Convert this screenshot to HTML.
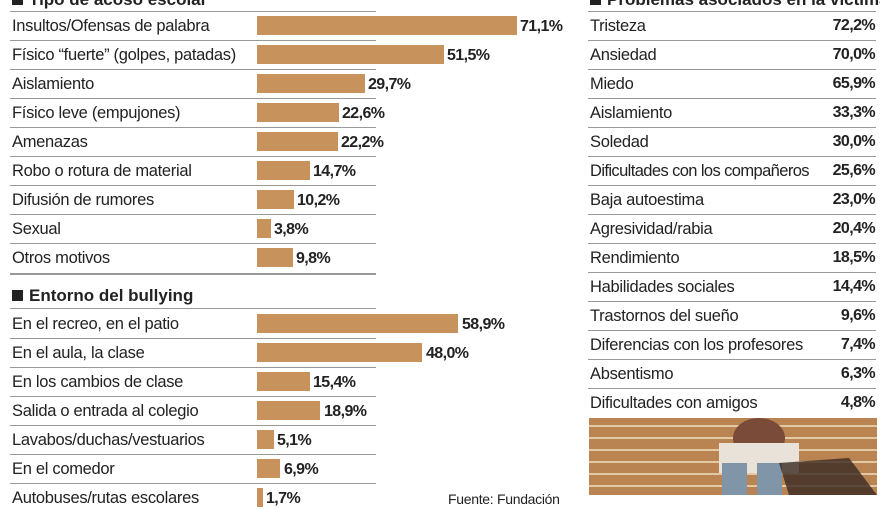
<!DOCTYPE html>
<html><head><meta charset="utf-8"><style>
body{margin:0;width:880px;height:495px;background:#fff;overflow:hidden;position:relative;font-family:"Liberation Sans",sans-serif;color:#222}
.t{position:absolute;font-size:16.5px;line-height:20px;white-space:nowrap;letter-spacing:-0.3px;margin-top:1px}
.h{position:absolute;font-size:17px;font-weight:bold;line-height:20px;white-space:nowrap}
.h:before{content:"";display:inline-block;width:11px;height:11px;background:#222;margin-right:6px}
.l{position:absolute;height:1px;background:#999}
.b{position:absolute;height:19px;background:#c8925c}
.v{position:absolute;font-size:16px;font-weight:bold;line-height:20px;letter-spacing:-0.6px;margin-top:1px}
.r{position:absolute;font-size:16px;font-weight:bold;line-height:20px;right:5px;letter-spacing:-0.6px;margin-top:1px}
</style></head><body>
<div class="h" style="left:12px;top:-10px">Tipo de acoso escolar</div>
<div class="h" style="left:590px;top:-10px">Problemas asociados en la víctima</div>
<div class="l" style="left:10px;width:366px;top:11px"></div>
<div class="l" style="left:588px;width:288px;top:11px"></div>

<div class="t" style="left:12px;top:15px">Insultos/Ofensas de palabra</div><div class="b" style="left:257px;top:16px;width:260px"></div><div class="v" style="left:520px;top:16px">71,1%</div><div class="l" style="left:10px;width:366px;top:40px"></div>
<div class="t" style="left:12px;top:44px">Físico “fuerte” (golpes, patadas)</div><div class="b" style="left:257px;top:45px;width:187px"></div><div class="v" style="left:447px;top:45px">51,5%</div><div class="l" style="left:10px;width:366px;top:69px"></div>
<div class="t" style="left:12px;top:73px">Aislamiento</div><div class="b" style="left:257px;top:74px;width:108px"></div><div class="v" style="left:368px;top:74px">29,7%</div><div class="l" style="left:10px;width:366px;top:98px"></div>
<div class="t" style="left:12px;top:102px">Físico leve (empujones)</div><div class="b" style="left:257px;top:103px;width:82px"></div><div class="v" style="left:342px;top:103px">22,6%</div><div class="l" style="left:10px;width:366px;top:127px"></div>
<div class="t" style="left:12px;top:131px">Amenazas</div><div class="b" style="left:257px;top:132px;width:81px"></div><div class="v" style="left:341px;top:132px">22,2%</div><div class="l" style="left:10px;width:366px;top:156px"></div>
<div class="t" style="left:12px;top:160px">Robo o rotura de material</div><div class="b" style="left:257px;top:161px;width:53px"></div><div class="v" style="left:313px;top:161px">14,7%</div><div class="l" style="left:10px;width:366px;top:185px"></div>
<div class="t" style="left:12px;top:189px">Difusión de rumores</div><div class="b" style="left:257px;top:190px;width:37px"></div><div class="v" style="left:297px;top:190px">10,2%</div><div class="l" style="left:10px;width:366px;top:214px"></div>
<div class="t" style="left:12px;top:218px">Sexual</div><div class="b" style="left:257px;top:219px;width:14px"></div><div class="v" style="left:274px;top:219px">3,8%</div><div class="l" style="left:10px;width:366px;top:243px"></div>
<div class="t" style="left:12px;top:247px">Otros motivos</div><div class="b" style="left:257px;top:248px;width:36px"></div><div class="v" style="left:296px;top:248px">9,8%</div><div class="l" style="left:10px;width:366px;top:273px;height:2px"></div>

<div class="h" style="left:12px;top:286px">Entorno del bullying</div>
<div class="l" style="left:10px;width:366px;top:308px"></div>
<div class="t" style="left:12px;top:313px">En el recreo, en el patio</div><div class="b" style="left:257px;top:314px;width:201px"></div><div class="v" style="left:462px;top:314px">58,9%</div><div class="l" style="left:10px;width:366px;top:338px"></div>
<div class="t" style="left:12px;top:342px">En el aula, la clase</div><div class="b" style="left:257px;top:343px;width:165px"></div><div class="v" style="left:426px;top:343px">48,0%</div><div class="l" style="left:10px;width:366px;top:367px"></div>
<div class="t" style="left:12px;top:371px">En los cambios de clase</div><div class="b" style="left:257px;top:372px;width:53px"></div><div class="v" style="left:313px;top:372px">15,4%</div><div class="l" style="left:10px;width:366px;top:396px"></div>
<div class="t" style="left:12px;top:400px">Salida o entrada al colegio</div><div class="b" style="left:257px;top:401px;width:63px"></div><div class="v" style="left:324px;top:401px">18,9%</div><div class="l" style="left:10px;width:366px;top:425px"></div>
<div class="t" style="left:12px;top:429px">Lavabos/duchas/vestuarios</div><div class="b" style="left:257px;top:430px;width:17px"></div><div class="v" style="left:277px;top:430px">5,1%</div><div class="l" style="left:10px;width:366px;top:454px"></div>
<div class="t" style="left:12px;top:458px">En el comedor</div><div class="b" style="left:257px;top:459px;width:23px"></div><div class="v" style="left:284px;top:459px">6,9%</div><div class="l" style="left:10px;width:366px;top:483px"></div>
<div class="t" style="left:12px;top:487px">Autobuses/rutas escolares</div><div class="b" style="left:257px;top:488px;width:6px"></div><div class="v" style="left:266px;top:488px">1,7%</div>
<div class="t" style="left:448px;top:488px;font-size:14px">Fuente: Fundación</div>

<div style="position:absolute;left:588px;top:0;width:292px;height:495px">
<div class="t" style="left:2px;top:15px">Tristeza</div><div class="r" style="top:15px">72,2%</div><div class="l" style="left:0;width:288px;top:40px"></div>
<div class="t" style="left:2px;top:44px">Ansiedad</div><div class="r" style="top:44px">70,0%</div><div class="l" style="left:0;width:288px;top:69px"></div>
<div class="t" style="left:2px;top:73px">Miedo</div><div class="r" style="top:73px">65,9%</div><div class="l" style="left:0;width:288px;top:98px"></div>
<div class="t" style="left:2px;top:102px">Aislamiento</div><div class="r" style="top:102px">33,3%</div><div class="l" style="left:0;width:288px;top:127px"></div>
<div class="t" style="left:2px;top:131px">Soledad</div><div class="r" style="top:131px">30,0%</div><div class="l" style="left:0;width:288px;top:156px"></div>
<div class="t" style="left:2px;top:160px;letter-spacing:-0.6px">Dificultades con los compañeros</div><div class="r" style="top:160px">25,6%</div><div class="l" style="left:0;width:288px;top:185px"></div>
<div class="t" style="left:2px;top:189px">Baja autoestima</div><div class="r" style="top:189px">23,0%</div><div class="l" style="left:0;width:288px;top:214px"></div>
<div class="t" style="left:2px;top:218px">Agresividad/rabia</div><div class="r" style="top:218px">20,4%</div><div class="l" style="left:0;width:288px;top:243px"></div>
<div class="t" style="left:2px;top:247px">Rendimiento</div><div class="r" style="top:247px">18,5%</div><div class="l" style="left:0;width:288px;top:272px"></div>
<div class="t" style="left:2px;top:276px">Habilidades sociales</div><div class="r" style="top:276px">14,4%</div><div class="l" style="left:0;width:288px;top:301px"></div>
<div class="t" style="left:2px;top:305px">Trastornos del sueño</div><div class="r" style="top:305px">9,6%</div><div class="l" style="left:0;width:288px;top:330px"></div>
<div class="t" style="left:2px;top:334px">Diferencias con los profesores</div><div class="r" style="top:334px">7,4%</div><div class="l" style="left:0;width:288px;top:359px"></div>
<div class="t" style="left:2px;top:363px">Absentismo</div><div class="r" style="top:363px">6,3%</div><div class="l" style="left:0;width:288px;top:388px"></div>
<div class="t" style="left:2px;top:392px">Dificultades con amigos</div><div class="r" style="top:392px">4,8%</div>
<svg style="position:absolute;left:1px;top:418px" width="288" height="77">
<rect width="288" height="77" fill="#b98352"/>
<g stroke="#e2c9a4" stroke-width="2">
<line x1="0" y1="8" x2="288" y2="8"/><line x1="0" y1="20" x2="288" y2="20"/><line x1="0" y1="32" x2="288" y2="32"/><line x1="0" y1="44" x2="288" y2="44"/><line x1="0" y1="56" x2="288" y2="56"/><line x1="0" y1="68" x2="288" y2="68"/>
</g>
<ellipse cx="170" cy="20" rx="26" ry="20" fill="#7a4b38"/>
<rect x="130" y="25" width="80" height="30" fill="#e8e2d8"/>
<rect x="133" y="45" width="25" height="32" fill="#8195a8"/>
<rect x="168" y="45" width="25" height="32" fill="#8195a8"/>
<path d="M190 45 L260 40 L288 77 L200 77Z" fill="#3a2a22" opacity=".8"/>
</svg>
</div>
</body></html>
